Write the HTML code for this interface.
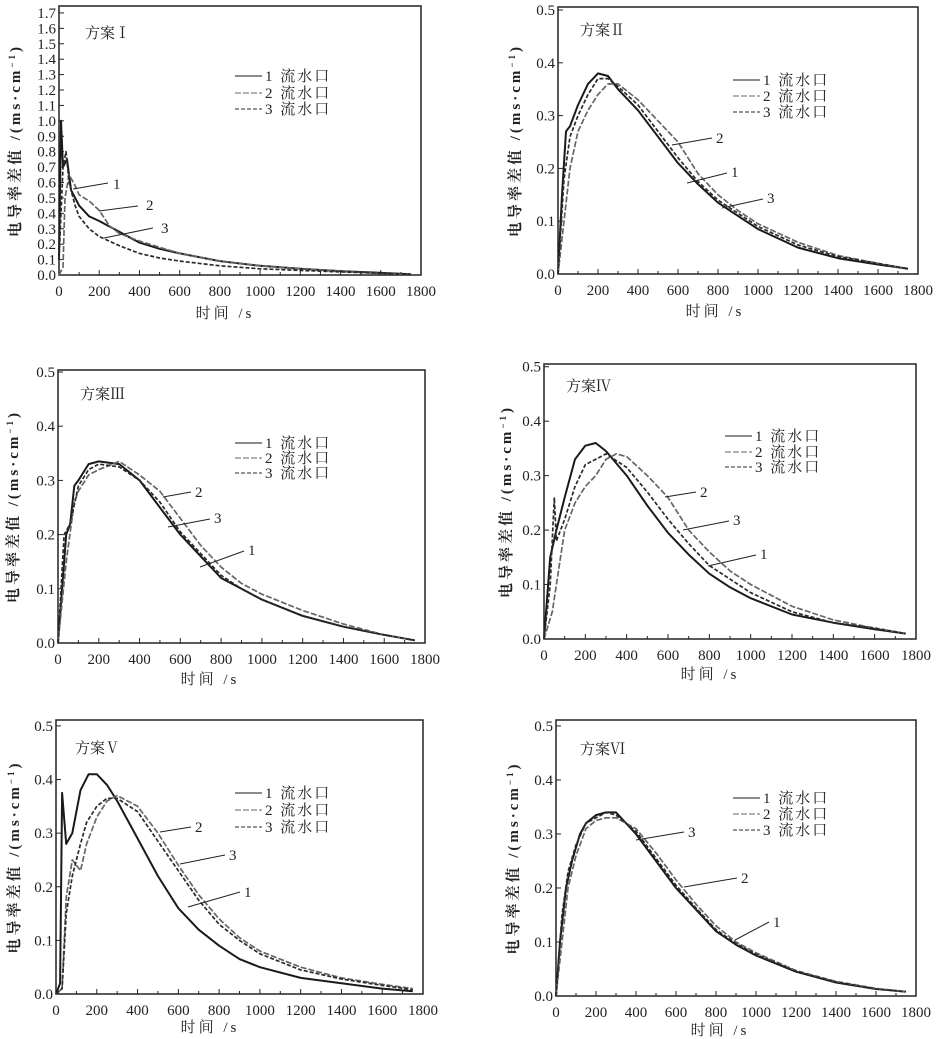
<!DOCTYPE html>
<html><head><meta charset="utf-8">
<style>
html,body{margin:0;padding:0;background:#fff;}
svg{display:block;}
.tk{font-family:"Liberation Serif",serif;font-size:15px;fill:#222;}
.cj{font-family:"Liberation Serif","Noto Serif CJK SC","Noto Sans CJK SC",serif;fill:#222;}
</style></head>
<body>
<svg id="fig" width="945" height="1039" viewBox="0 0 945 1039" xmlns="http://www.w3.org/2000/svg"></svg>
<script>
const xTicks=[0,200,400,600,800,1000,1200,1400,1600,1800];
const yTicksSmall=[0,0.1,0.2,0.3,0.4,0.5];
const yTicksBig=[0,0.1,0.2,0.3,0.4,0.5,0.6,0.7,0.8,0.9,1.0,1.1,1.2,1.3,1.4,1.5,1.6,1.7];
const seriesNames=["1 流水口","2 流水口","3 流水口"];
// Panel I
const p1s1T=[0,10,20,40,60,100,150,200,300,400,500,600,800,1000,1200,1400,1750];
const p1s1V=[0.1,1.0,0.7,0.75,0.55,0.45,0.38,0.35,0.28,0.21,0.17,0.14,0.09,0.06,0.04,0.025,0.005];
const p1s2T=[0,20,30,50,80,100,150,200,250,300,400,500,600,800,1000,1200,1400,1600,1750];
const p1s2V=[0,0.05,0.5,0.65,0.58,0.52,0.48,0.42,0.32,0.27,0.22,0.18,0.14,0.09,0.06,0.04,0.025,0.01,0.005];
const p1s3T=[0,20,35,50,80,100,150,200,300,400,500,600,800,1000,1200,1400,1750];
const p1s3V=[0.1,0.7,0.8,0.6,0.45,0.38,0.3,0.25,0.19,0.14,0.11,0.09,0.06,0.04,0.03,0.02,0.005];
// Panel II
const p2s1T=[0,20,40,60,100,150,200,250,300,400,500,600,700,800,900,1000,1200,1400,1600,1750];
const p2s1V=[0,0.15,0.27,0.28,0.32,0.36,0.38,0.375,0.35,0.31,0.26,0.21,0.17,0.135,0.11,0.085,0.05,0.03,0.018,0.01];
const p2s2T=[0,30,60,100,150,200,250,300,400,500,600,700,800,900,1000,1200,1400,1600,1750];
const p2s2V=[0,0.1,0.2,0.27,0.31,0.34,0.36,0.36,0.33,0.29,0.25,0.19,0.15,0.12,0.095,0.06,0.035,0.02,0.01];
const p2s3T=[0,30,60,100,150,200,250,300,400,500,600,700,800,900,1000,1200,1400,1600,1750];
const p2s3V=[0,0.18,0.26,0.3,0.34,0.37,0.37,0.355,0.32,0.27,0.22,0.175,0.14,0.115,0.09,0.055,0.033,0.02,0.01];
// Panel III
const p3s1T=[0,20,40,60,80,100,150,200,300,400,500,600,700,800,900,1000,1200,1400,1600,1750];
const p3s1V=[0,0.1,0.2,0.22,0.29,0.3,0.33,0.335,0.33,0.3,0.25,0.2,0.16,0.12,0.1,0.08,0.05,0.03,0.015,0.005];
const p3s2T=[0,40,80,100,150,200,300,400,500,600,700,800,900,1000,1200,1400,1600,1750];
const p3s2V=[0,0.15,0.26,0.28,0.31,0.32,0.335,0.31,0.28,0.23,0.18,0.14,0.11,0.09,0.06,0.035,0.015,0.005];
const p3s3T=[0,30,60,100,150,200,300,400,500,600,700,800,900,1000,1200,1400,1600,1750];
const p3s3V=[0,0.2,0.22,0.29,0.32,0.33,0.325,0.3,0.26,0.205,0.165,0.125,0.1,0.08,0.05,0.03,0.015,0.005];
// Panel IV
const p4s1T=[0,30,60,100,150,200,250,300,400,500,600,700,800,900,1000,1200,1400,1600,1750];
const p4s1V=[0,0.15,0.2,0.26,0.33,0.355,0.36,0.345,0.3,0.245,0.195,0.155,0.12,0.095,0.075,0.045,0.03,0.018,0.01];
const p4s2T=[0,40,80,100,150,200,250,300,350,400,500,600,700,800,900,1000,1200,1400,1600,1750];
const p4s2V=[0,0.05,0.15,0.2,0.25,0.28,0.3,0.33,0.34,0.335,0.3,0.26,0.2,0.16,0.125,0.1,0.06,0.035,0.02,0.01];
const p4s3T=[0,30,50,60,100,150,200,300,400,500,600,700,800,900,1000,1200,1400,1600,1750];
const p4s3V=[0,0.1,0.26,0.18,0.22,0.28,0.32,0.34,0.315,0.27,0.22,0.175,0.135,0.11,0.085,0.05,0.03,0.02,0.01];
// Panel V
const p5s1T=[0,20,30,50,80,120,160,200,250,300,400,500,600,700,800,900,1000,1200,1400,1600,1750];
const p5s1V=[0,0.02,0.375,0.28,0.3,0.38,0.41,0.41,0.39,0.36,0.29,0.22,0.16,0.12,0.09,0.065,0.05,0.03,0.02,0.01,0.005];
const p5s2T=[0,30,50,80,120,150,200,250,300,400,500,600,700,800,900,1000,1200,1400,1600,1750];
const p5s2V=[0,0.01,0.18,0.25,0.23,0.28,0.33,0.36,0.37,0.35,0.3,0.24,0.185,0.14,0.105,0.08,0.05,0.03,0.018,0.01];
const p5s3T=[0,30,50,80,120,150,200,250,300,400,500,600,700,800,900,1000,1200,1400,1600,1750];
const p5s3V=[0,0.01,0.15,0.22,0.28,0.32,0.35,0.365,0.365,0.34,0.285,0.23,0.175,0.13,0.1,0.075,0.045,0.028,0.016,0.008];
// Panel VI
const p6s1T=[0,20,50,80,120,150,200,250,300,400,500,600,700,800,900,1000,1200,1400,1600,1750];
const p6s1V=[0,0.1,0.2,0.25,0.3,0.32,0.335,0.34,0.34,0.3,0.25,0.2,0.16,0.12,0.095,0.075,0.045,0.025,0.013,0.008];
const p6s2T=[0,30,60,100,150,200,250,300,400,500,600,700,800,900,1000,1200,1400,1600,1750];
const p6s2V=[0,0.1,0.2,0.26,0.31,0.325,0.33,0.33,0.31,0.265,0.215,0.17,0.13,0.1,0.08,0.047,0.027,0.014,0.008];
const p6s3T=[0,30,60,100,150,200,250,300,400,500,600,700,800,900,1000,1200,1400,1600,1750];
const p6s3V=[0,0.15,0.23,0.28,0.32,0.33,0.34,0.335,0.305,0.255,0.205,0.163,0.123,0.097,0.077,0.046,0.026,0.013,0.008];

const NS="http://www.w3.org/2000/svg";
const svg=document.getElementById('fig');
function mk(tag,attrs,parent){const e=document.createElementNS(NS,tag);for(const k in attrs)e.setAttribute(k,attrs[k]);(parent||svg).appendChild(e);return e;}

const styles=[
 {stroke:"#1a1a1a",dash:"",w:2},
 {stroke:"#666",dash:"6,2",w:1.7},
 {stroke:"#2a2a2a",dash:"4,2",w:1.7}
];

const panels=[
 {id:"1",title:"方案Ⅰ",L:59,R:421,T:6,B:275,ymax:1.745,yt:yTicksBig,data:[[p1s1T,p1s1V],[p1s2T,p1s2V],[p1s3T,p1s3V]],tx:85,ty:38,lgx:235,lgy:[80,97,113],ytx:20,xtx:225,xty:318,
  ann:[["1",113,189,73,189,108,183],["2",146,210,99,211,138,206],["3",161,233,104,238,153,228]]},
 {id:"2",title:"方案Ⅱ",L:558,R:918,T:7,B:274,ymax:0.5057,yt:yTicksSmall,data:[[p2s1T,p2s1V],[p2s2T,p2s2V],[p2s3T,p2s3V]],tx:580,ty:35,lgx:733,lgy:[84,100,116],ytx:520,xtx:715,xty:316,
  ann:[["2",716,143,672,145,712,138],["1",731,177,687,183,727,173],["3",767,203,722,208,763,199]]},
 {id:"3",title:"方案Ⅲ",L:58,R:425,T:370,B:643,ymax:0.5037,yt:yTicksSmall,data:[[p3s1T,p3s1V],[p3s2T,p3s2V],[p3s3T,p3s3V]],tx:80,ty:399,lgx:235,lgy:[447,462,477],ytx:18,xtx:210,xty:684,
  ann:[["2",195,497,163,497,191,492],["3",214,523,168,527,210,519],["1",248,555,200,567,244,551]]},
 {id:"4",title:"方案Ⅳ",L:544,R:916,T:364,B:639,ymax:0.505,yt:yTicksSmall,data:[[p4s1T,p4s1V],[p4s2T,p4s2V],[p4s3T,p4s3V]],tx:566,ty:391,lgx:725,lgy:[440,456,471],ytx:511,xtx:710,xty:679,
  ann:[["2",700,497,665,497,696,492],["3",733,525,683,530,729,521],["1",760,559,708,566,756,555]]},
 {id:"5",title:"方案Ⅴ",L:56,R:423,T:720,B:994,ymax:0.511,yt:yTicksSmall,data:[[p5s1T,p5s1V],[p5s2T,p5s2V],[p5s3T,p5s3V]],tx:75,ty:753,lgx:235,lgy:[797,814,831],ytx:19,xtx:210,xty:1032,
  ann:[["2",195,832,160,832,191,827],["3",229,860,180,864,225,855],["1",244,897,188,907,240,892]]},
 {id:"6",title:"方案Ⅵ",L:556,R:916,T:720,B:996,ymax:0.511,yt:yTicksSmall,data:[[p6s1T,p6s1V],[p6s2T,p6s2V],[p6s3T,p6s3V]],tx:580,ty:754,lgx:733,lgy:[802,818,834],ytx:518,xtx:720,xty:1035,
  ann:[["3",688,837,636,840,684,832],["2",741,883,684,887,737,878],["1",773,927,735,940,769,922]]}
];

panels.forEach(p=>{
  const g=mk('g',{});
  
  
  const xs=v=>p.L+(v/1800)*(p.R-p.L);
  const ys=v=>p.B-(v/p.ymax)*(p.B-p.T);
  const frame=mk('rect',{x:p.L,y:p.T,width:p.R-p.L,height:p.B-p.T,fill:"none",stroke:"#222","stroke-width":1.5},g);
  
  
  xTicks.forEach(t=>{
    const x=xs(t);
    mk('line',{x1:x,y1:p.B,x2:x,y2:p.B-5,stroke:"#222","stroke-width":1},g);
    if(t<1800){mk('line',{x1:xs(t+100),y1:p.B,x2:xs(t+100),y2:p.B-3,stroke:"#222","stroke-width":1},g);}
    const tl=mk('text',{x:x,y:p.B+21,"text-anchor":"middle",class:"tk"},g);
    tl.textContent=String(t);
    
    
  });
  p.yt.forEach(t=>{
    const y=ys(t);
    mk('line',{x1:p.L,y1:y,x2:p.L+5,y2:y,stroke:"#222","stroke-width":1},g);
    const tl=mk('text',{x:p.L-3,y:y+5,"text-anchor":"end",class:"tk"},g);
    tl.textContent=t.toFixed(1);
    
    
  });
  p.data.forEach((s,i)=>{
    const d=s[0].map((t,k)=>(k?'L':'M')+xs(t).toFixed(1)+','+ys(s[1][k]).toFixed(1)).join(' ');
    const st=styles[i];
    const path=mk('path',{d:d,fill:"none",stroke:st.stroke,"stroke-width":st.w,"stroke-dasharray":st.dash,"stroke-linejoin":"round"},g);
    
    
  });
  p.lgy.forEach((y,i)=>{
    const st=styles[i];
    mk('line',{x1:p.lgx,y1:y-4,x2:p.lgx+27,y2:y-4,stroke:st.stroke,"stroke-width":1,"stroke-dasharray":st.dash},g);
    const lt=mk('text',{x:p.lgx+30,y:y+1,class:"cj","font-size":"15","letter-spacing":"2"},g);
    lt.textContent=seriesNames[i];
    
    
  });
  p.ann.forEach(a=>{
    mk('line',{x1:a[3],y1:a[4],x2:a[5],y2:a[6],stroke:"#222","stroke-width":1},g);
    const at=mk('text',{x:a[1],y:a[2],class:"tk"},g);
    at.textContent=a[0];
    
    
  });
  const tt=mk('text',{x:p.tx,y:p.ty,class:"cj","font-size":"15"},g);
  tt.textContent=p.title;
  
  
  const cy=(p.T+p.B)/2;
  const yt=mk('text',{x:p.ytx,y:cy,"text-anchor":"middle",class:"cj","font-size":"15","font-weight":"bold","letter-spacing":"3",transform:`rotate(-90 ${p.ytx} ${cy})`},g);
  yt.innerHTML='电导率差值 /(ms·cm<tspan baseline-shift="super" font-size="9">−1</tspan>)';
  
  
  const xt=mk('text',{x:p.xtx,y:p.xty,"text-anchor":"middle",class:"cj","font-size":"15","letter-spacing":"3"},g);
  xt.textContent='时间 /s';
  
  
});
</script>
</body></html>
